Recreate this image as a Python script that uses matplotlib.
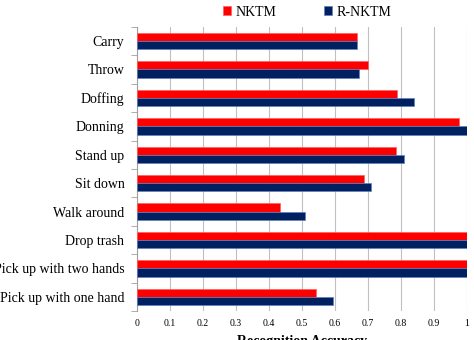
import numpy as np
import matplotlib
matplotlib.use('Agg')
import matplotlib.pyplot as plt

plt.rcParams['font.family'] = ['Liberation Serif', 'DejaVu Serif']

# 数据（从上到下的动作类别）
actions = ['Carry', 'Throw', 'Doffing', 'Donning', 'Stand up', 'Sit down',
           'Walk around', 'Drop trash', 'Pick up with two hands', 'Pick up with one hand']
nktm = [0.667, 0.700, 0.788, 0.976, 0.785, 0.689, 0.433, 1.0, 1.0, 0.542]
r_nktm = [0.667, 0.673, 0.840, 1.0, 0.810, 0.709, 0.510, 1.0, 1.0, 0.593]
x_ticks = [0, 0.1, 0.2, 0.3, 0.4, 0.5, 0.6, 0.7, 0.8, 0.9, 1]
x_labels = ['0', '0.1', '0.2', '0.3', '0.4', '0.5', '0.6', '0.7', '0.8', '0.9', '1']

fig = plt.figure(figsize=(4.74, 3.40), dpi=100)
ax = fig.add_axes([0.289, 0.085, 0.696, 0.836])

y = np.arange(len(actions))[::-1]
h = 0.29
ax.barh(y + h / 2, nktm, height=h, color='#ff0000', edgecolor='#ff6060', linewidth=0.5, label='NKTM', zorder=3)
ax.barh(y - h / 2, r_nktm, height=h, color='#002060', edgecolor='#6080c0', linewidth=0.5, label='R-NKTM', zorder=3)

ax.set_xlim(0, 1)
ax.set_ylim(-0.5, len(actions) - 0.5)
ax.set_xticks(x_ticks)
ax.set_xticklabels(x_labels, fontsize=7)
ax.set_yticks(y)
ax.set_yticklabels(actions, fontsize=10)
ax.set_yticks(np.arange(-0.5, len(actions), 1), minor=True)
ax.tick_params(axis='y', which='major', length=0, pad=9)
ax.tick_params(axis='y', which='minor', length=4, color='#a0a0a0')
ax.tick_params(axis='x', length=0, pad=6)
ax.grid(axis='x', color='#c0c0c0', linewidth=0.8, zorder=0)
for s in ['top', 'right', 'bottom']:
    ax.spines[s].set_visible(False)
ax.spines['left'].set_color('#a0a0a0')

ax.set_xlabel('Recognition Accuracy', fontsize=10, fontweight='bold', labelpad=5)

fig.legend(loc='upper center', bbox_to_anchor=(0.648, 1.02), ncol=2, frameon=False,
           fontsize=10, handlelength=0.6, handleheight=0.6, columnspacing=3.4, handletextpad=0.3)

plt.savefig('out.png', dpi=100)
